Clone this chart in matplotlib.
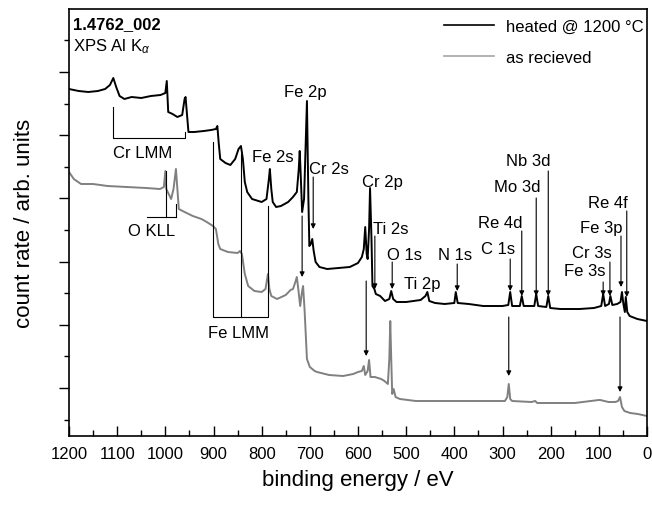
import matplotlib
matplotlib.use("Agg")
import matplotlib.pyplot as plt
from matplotlib.ticker import MultipleLocator, FixedLocator, NullFormatter

plt.rcParams['font.family'] = ['Liberation Sans', 'DejaVu Sans']
plt.rcParams['mathtext.fontset'] = 'custom'
plt.rcParams['mathtext.rm'] = 'Liberation Sans'
plt.rcParams['mathtext.it'] = 'Liberation Sans:italic'

# ---- data: binding energy (eV) and count rate (arb. units) ----
heated_energy = [1200, 1180, 1160, 1140, 1125, 1115, 1108, 1102, 1095, 1085, 1070, 1050, 1030, 1010,
                 1000, 997, 994, 985, 975, 965, 960, 958, 955, 952, 940, 920, 905, 895, 892, 889,
                 886, 875, 865, 855, 848, 843, 839, 835, 830, 820, 800, 790, 785, 783, 780, 777,
                 770, 760, 745, 735, 727, 723, 721, 719, 716, 712, 709, 706, 703, 701, 698, 695,
                 692, 688, 680, 664, 640, 617, 600, 592, 588, 585, 582, 580, 577, 575, 572, 570,
                 566, 563, 554, 544, 535, 531, 527, 520, 500, 470, 460, 456, 452, 440, 420, 400,
                 397, 393, 370, 340, 300, 288, 284, 280, 264, 260, 256, 234, 230, 226, 209, 205,
                 201, 180, 140, 110, 95, 91, 87, 79, 76, 72, 62, 55, 52, 49, 46, 44, 41, 36, 20, 0]
heated_counts = [347, 345, 344, 345, 347, 351, 358, 349, 340, 337, 339, 338, 340, 341,
                 343, 355, 324, 322, 319, 321, 337, 339, 322, 304, 304, 305, 306, 307, 310, 292,
                 277, 273, 271, 277, 287, 290, 277, 254, 244, 237, 234, 237, 257, 267, 247, 234,
                 229, 230, 234, 239, 244, 267, 285, 262, 224, 237, 287, 335, 237, 190, 192, 197,
                 185, 174, 169, 167, 168, 169, 173, 179, 187, 209, 182, 177, 207, 248, 197, 150,
                 147, 142, 140, 135, 137, 145, 137, 134, 134, 136, 140, 144, 135, 133, 132, 133,
                 144, 133, 132, 130, 130, 131, 144, 130, 130, 140, 130, 130, 142, 130, 129, 140,
                 128, 127, 127, 128, 130, 142, 130, 132, 140, 131, 132, 134, 144, 132, 124, 139, 124, 120, 117, 115]

received_energy = [1200, 1190, 1175, 1150, 1120, 1080, 1040, 1011, 1003, 1000, 998, 992, 988, 983,
                   978, 975, 972, 960, 943, 925, 914, 901, 895, 890, 886, 870, 850, 845, 841, 835,
                   828, 815, 800, 792, 787, 784, 780, 768, 750, 740, 735, 730, 727, 724, 720, 716,
                   714, 711, 708, 706, 700, 690, 685, 660, 631, 610, 600, 592, 588, 585, 580, 577,
                   574, 565, 552, 545, 538, 535, 533, 531, 529, 526, 522, 513, 480, 400, 330, 295,
                   290, 287, 284, 280, 240, 232, 228, 200, 150, 100, 97, 80, 66, 60, 56, 52, 47,
                   35, 19, 0]
received_counts = [264, 257, 252, 252, 250, 249, 248, 247, 249, 265, 247, 241, 237, 247,
                   267, 247, 227, 224, 220, 217, 214, 210, 207, 192, 187, 184, 183, 185, 182, 162,
                   150, 145, 144, 147, 162, 147, 140, 137, 141, 146, 147, 154, 159, 147, 130, 145,
                   150, 127, 97, 77, 69, 65, 64, 61, 60, 62, 64, 65, 70, 61, 65, 76,
                   59, 59, 57, 55, 52, 77, 115, 77, 42, 47, 39, 37, 35, 35, 35, 35,
                   39, 52, 37, 35, 34, 35, 33, 33, 33, 36, 36, 34, 34, 35, 39, 29, 25,
                   23, 22, 20]

series_labels = ["heated @ 1200 \u00b0C", "as recieved"]
x_ticks = [1200, 1100, 1000, 900, 800, 700, 600, 500, 400, 300, 200, 100, 0]

# peak labels: text, label x (eV), label y, arrow x (eV), arrow start y, arrow end y (None = no arrow)
peak_labels = [
    ("Fe 2p", 710, 345, None, None, None),
    ("Fe 2s", 776, 280, None, None, None),
    ("Cr 2s", 660, 268, 693, 259, 207),
    ("Cr 2p", 550, 254, None, None, None),
    ("Ti 2s", 531, 208, 565, 200, 147),
    ("O 1s", 504, 182, 529, 174, 147),
    ("Ti 2p", 467, 153, None, None, None),
    ("N 1s", 399, 182, 394, 172, 145),
    ("C 1s", 309, 187, 284, 177, 145),
    ("Re 4d", 305, 214, 260, 205, 140),
    ("Mo 3d", 270, 249, 230, 238, 140),
    ("Nb 3d", 247, 276, 205, 265, 140),
    ("Re 4f", 81, 233, 42, 225, 139),
    ("Fe 3p", 95, 209, 54, 200, 149),
    ("Cr 3s", 114, 184, 77, 174, 140),
    ("Fe 3s", 129, 165, 91, 154, 140),
]
# arrows to the as-received spectrum: x (eV), start y, end y
received_arrows = [(716, 220, 159), (583, 155, 80), (287, 119, 60), (56, 119, 44)]

fig = plt.figure(figsize=(6.52, 5.06), dpi=100)
ax = fig.add_axes([69 / 652, 1 - 437 / 506, 578 / 652, 427 / 506])

line_rec, = ax.plot(received_energy, received_counts, color='#808080', lw=1.4)
line_heat, = ax.plot(heated_energy, heated_counts, color='black', lw=1.4)

ax.set_xlim(1200, 0)
ax.set_ylim(0, 427)

ap = dict(arrowstyle='-|>', lw=0.8, color='black', mutation_scale=7, shrinkA=0, shrinkB=0)
for txt, lx, ly, axx, y0, y1 in peak_labels:
    ax.text(lx, ly, txt, ha='center', va='center', fontsize=12)
    if axx is not None:
        ax.annotate('', xy=(axx, y1), xytext=(axx, y0), arrowprops=ap)
for axx, y0, y1 in received_arrows:
    ax.annotate('', xy=(axx, y1), xytext=(axx, y0), arrowprops=ap)

lk = dict(color='black', lw=0.8)
# Cr LMM bracket
ax.plot([1108, 1108, 959, 959], [329, 298, 298, 304], **lk)
ax.text(1048, 284, "Cr LMM", ha='center', va='center', fontsize=12)
# O KLL bracket
ax.plot([1038, 977], [219, 219], **lk)
ax.plot([998, 998], [265, 219], **lk)
ax.plot([977, 977], [232, 219], **lk)
ax.text(1028, 205, "O KLL", ha='center', va='center', fontsize=12)
# Fe LMM bracket
ax.plot([901, 901, 787, 787], [294, 119, 119, 230], **lk)
ax.plot([842, 842], [282, 119], **lk)
ax.text(849, 104, "Fe LMM", ha='center', va='center', fontsize=12)

ax.text(0.007, 0.965, "1.4762_002", transform=ax.transAxes, ha='left', va='center',
        fontsize=12, fontweight='bold')
ax.text(0.007, 0.913, r"XPS Al K$_\alpha$", transform=ax.transAxes, ha='left', va='center',
        fontsize=12)

ax.legend([line_heat, line_rec], series_labels, loc='upper right', bbox_to_anchor=(1.0, 0.985),
          frameon=False, fontsize=12, handlelength=3.0, borderaxespad=0.1, borderpad=0.1,
          labelspacing=0.95, handletextpad=0.7)
leg = ax.get_legend()
leg.legend_handles[0].set_linewidth(1.2)
leg.legend_handles[1].set_linewidth(1.2)
leg.legend_handles[1].set_color('#a6a6a6')

ax.set_xticks(x_ticks)
ax.xaxis.set_minor_locator(MultipleLocator(50))
ax.tick_params(axis='x', which='both', direction='in', labelsize=12, pad=7)
ax.tick_params(axis='x', which='major', length=7, width=1.0)
ax.tick_params(axis='x', which='minor', length=4, width=1.0)
ax.yaxis.set_major_locator(FixedLocator([48 + 63.2 * k for k in range(6)]))
ax.yaxis.set_minor_locator(FixedLocator([16.4 + 63.2 * k for k in range(7)]))
ax.yaxis.set_major_formatter(NullFormatter())
ax.tick_params(axis='y', which='both', direction='out')
ax.tick_params(axis='y', which='major', length=7, width=1.0)
ax.tick_params(axis='y', which='minor', length=3.5, width=1.0)
for s in ax.spines.values():
    s.set_linewidth(1.2)

ax.set_xlabel("binding energy / eV", fontsize=16, labelpad=6)
ax.set_ylabel("count rate / arb. units", fontsize=16, labelpad=14)

fig.savefig("out.png", dpi=100)
